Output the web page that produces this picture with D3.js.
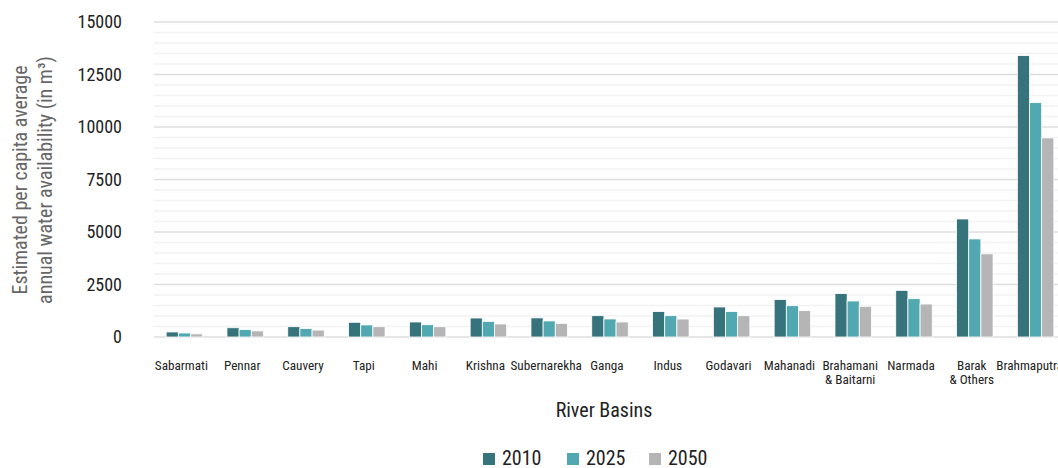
<!DOCTYPE html>
<html><head><meta charset="utf-8">
<script src="https://cdn.jsdelivr.net/npm/d3@7"></script>
<style>
body{margin:0;background:#fff;}
text{font-family:"Liberation Sans Narrow","Roboto Condensed","DejaVu Sans Condensed",sans-serif;}
</style></head>
<body><svg id="c" width="1058" height="468"></svg>
<script>
const categories = ["Sabarmati","Pennar","Cauvery","Tapi","Mahi","Krishna","Subernarekha","Ganga","Indus","Godavari","Mahanadi","Brahamani\n& Baitarni","Narmada","Barak\n& Others","Brahmaputra"];
const years = ["2010","2025","2050"];
const values2010 = [240,440,490,700,715,905,910,1015,1210,1430,1780,2065,2220,5620,13400];
const values2025 = [190,350,400,575,585,745,765,860,1015,1210,1490,1715,1825,4670,11160];
const values2050 = [150,290,330,490,490,620,650,715,855,1015,1255,1460,1570,3960,9480];
const yTicks = [0,2500,5000,7500,10000,12500,15000];
const colors = ["#36737b","#52a8b0","#b5b5b5"];

const series = [values2010, values2025, values2050];
const svg = d3.select("#c");
const m = {left:154, top:22, bottom:337};
const x = d3.scaleBand().domain(categories).range([m.left, m.left + 15*60.8]).paddingInner(0.4).paddingOuter(0.2);
const xi = d3.scaleBand().domain(years).range([0, x.bandwidth()]);
const y = d3.scaleLinear().domain([0,15000]).range([m.bottom, m.top]);

// minor grid
svg.append("g").selectAll("line").data(d3.range(500,15001,500).filter(v=>v%2500!==0)).join("line")
  .attr("x1",m.left).attr("x2",1058).attr("y1",d=>y(d)).attr("y2",d=>y(d))
  .attr("stroke","#f2f2f2").attr("stroke-width",1.5);
// major grid
svg.append("g").selectAll("line").data(yTicks).join("line")
  .attr("x1",m.left).attr("x2",1058).attr("y1",d=>y(d)).attr("y2",d=>y(d))
  .attr("stroke","#dedede").attr("stroke-width",1.5);

// y tick labels
const yAxis = svg.append("g").attr("transform",`translate(${m.left},0)`)
  .call(d3.axisLeft(y).tickValues(yTicks).tickSize(0).tickPadding(32).tickFormat(d3.format("d")));
yAxis.select(".domain").remove();
yAxis.selectAll("text").attr("font-size",18).attr("fill","#222").style("font-family",null);

// bars
const g = svg.append("g");
categories.forEach((c,ci)=>{
  series.forEach((s,si)=>{
    g.append("rect").attr("x",x(c)+xi(years[si])).attr("y",y(s[ci]))
     .attr("width",xi.bandwidth()).attr("height",y(0)-y(s[ci]))
     .attr("fill",colors[si]).attr("stroke","#fff").attr("stroke-width",0.8);
  });
});

// x labels
const xl = svg.append("g");
categories.forEach(c=>{
  const lines = c.split("\n");
  let cx = x(c)+x.bandwidth()/2 - 3;
  const t = xl.append("text").attr("text-anchor","middle").attr("font-size",13.2).attr("fill","#222")
    .attr("y",370);
  const spans = lines.map((l,i)=>t.append("tspan").attr("dy",i?13.5:0).text(l));
  const w = t.node().getComputedTextLength ? t.node().getBBox().width : 0;
  cx = Math.min(cx, 1063 - w/2);
  t.attr("x",cx); spans.forEach(s=>s.attr("x",cx));
});

// axis titles
svg.append("text").attr("x",604).attr("y",417).attr("text-anchor","middle").attr("font-size",20).attr("fill","#222").text("River Basins");
const yt = svg.append("text").attr("transform","translate(0,180) rotate(-90)").attr("text-anchor","middle").attr("font-size",20).attr("fill","#666");
yt.append("tspan").attr("x",0).attr("y",27).text("Estimated per capita average");
yt.append("tspan").attr("x",0).attr("y",52).text("annual water availability (in m\u00B3)");

// legend
const lg = svg.append("g");
const lx = [483,567,649];
years.forEach((yr,i)=>{
  lg.append("rect").attr("x",lx[i]).attr("y",453).attr("width",12).attr("height",12).attr("fill",colors[i]);
  lg.append("text").attr("x",lx[i]+19).attr("y",465).attr("font-size",20).attr("fill","#222").text(yr);
});
</script></body></html>
